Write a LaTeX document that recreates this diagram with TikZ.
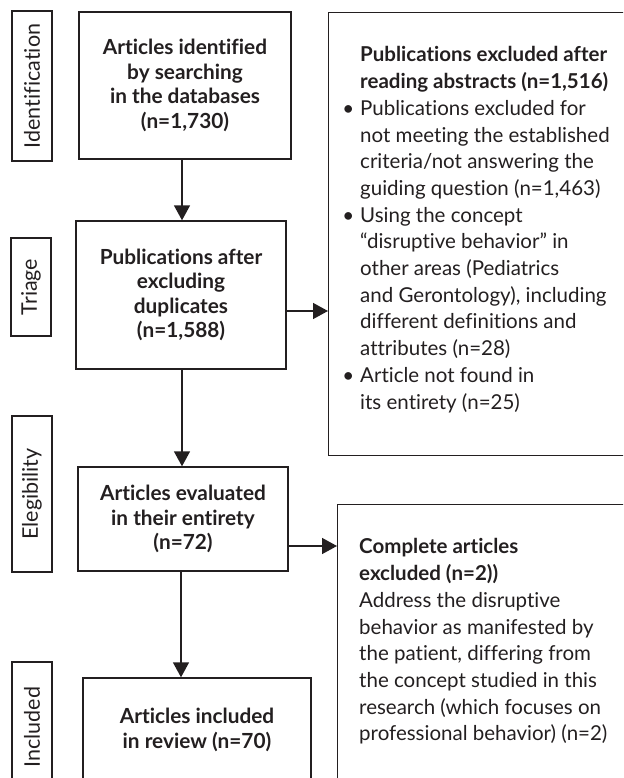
\documentclass[tikz,border=0pt]{standalone}
\usepackage{fontspec}
\setmainfont[Ligatures=NoCommon]{Lato}
\usetikzlibrary{arrows.meta}
\definecolor{ink}{HTML}{231F20}
\begin{document}
\begin{tikzpicture}[x=1pt,y=-1pt,
  box/.style={draw=ink,line width=1.4pt,inner sep=0pt,align=center,text=ink,
    font=\bfseries\fontsize{20.8}{24.5}\selectfont},
  lab/.style={draw=ink,line width=1.4pt,inner sep=0pt,rotate=90,text=ink,
    minimum height=40pt,font=\fontsize{21.5}{23}\selectfont},
  txt/.style={inner sep=0pt,align=left,text=ink,anchor=north west,
    font=\fontsize{20.5}{26.7}\selectfont},
  arr/.style={draw=ink,line width=1.5pt,-{Triangle[length=15pt,width=16pt]}}]
\useasboundingbox (0,0) rectangle (623,778);
\clip (0,0) rectangle (623,778);
% stage labels
\node[lab,minimum width=150pt] (lid) at (32,86) {Identification};
\node[lab,minimum width=98pt] (ltr) at (31,287) {Triage};
\node[lab,minimum width=156pt] (lel) at (32,494) {Elegibility};
\node[lab,minimum width=130pt] (lin) at (32,727) {Included};
% main column
\node[box,minimum width=212pt,minimum height=147pt] (b1) at (185,85.5)
  {Articles identified\\by searching\\in the databases\\(n=1,730)};
\node[box,minimum width=210pt,minimum height=148pt] (b2) at (181,295)
  {Publications after\\excluding\\duplicates\\(n=1,588)};
\node[box,minimum width=210pt,minimum height=104pt] (b3) at (183,519)
  {Articles evaluated\\in their entirety\\(n=72)};
\node[box,minimum width=228pt,minimum height=104pt] (b4) at (197,730)
  {Articles included\\in review (n=70)};
% exclusion boxes
\node[draw=ink,line width=1.4pt,inner sep=0pt,minimum width=320pt,minimum height=443pt,anchor=north west] (e1) at (328,12) {};
\node[draw=ink,line width=1.4pt,inner sep=0pt,minimum width=320pt,minimum height=300pt,anchor=north west] (e2) at (337,504) {};
\node[txt] (t1) at (360,46.5) {\textbf{Publications excluded after}\\
\textbf{reading abstracts (n=1,516)}\\
\llap{\textbullet\hspace{6pt}}Publications excluded for\\
not meeting the established\\
criteria/not answering the\\
guiding question (n=1,463)\\
\llap{\textbullet\hspace{6pt}}Using the concept\\
“disruptive behavior” in\\
other areas (Pediatrics\\
and Gerontology), including\\
different definitions and\\
attributes (n=28)\\
\llap{\textbullet\hspace{6pt}}Article not found in\\
its entirety (n=25)};
\node[txt] (t2) at (359,538.5) {\textbf{Complete articles}\\
\textbf{excluded (n=2))}\\
Address the disruptive\\
behavior as manifested by\\
the patient, differing from\\
the concept studied in this\\
research (which focuses on\\
professional behavior) (n=2)};
% connectors
\coordinate (cx) at (182,0);
\draw[arr] (b1.south -| cx) -- (b2.north -| cx);
\draw[arr] (b2.south -| cx) -- (b3.north -| cx);
\coordinate (cy) at (181,0);
\draw[arr] (b3.south -| cy) -- (b4.north -| cy);
\coordinate (r1) at (0,311);
\draw[arr] (b2.east |- r1) -- (e1.west |- r1);
\coordinate (r2) at (0,546);
\draw[arr] (b3.east |- r2) -- (e2.west |- r2);
\end{tikzpicture}
\end{document}
